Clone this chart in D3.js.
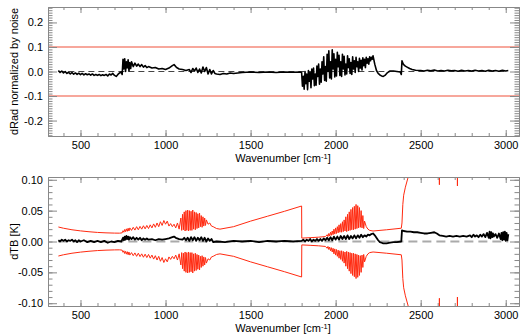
<!DOCTYPE html>
<html>
<head>
<meta charset="utf-8">
<script src="https://cdn.jsdelivr.net/npm/d3@7"></script>
<style>
body { margin: 0; background: #fff; }
text { font-family: "Liberation Sans", Arial, sans-serif; fill: #000; }
</style>
</head>
<body>
<div id="chart"></div>
<script>
// wavenumber [cm-1], value
var topDRad = [
  [370,0.004],[380,-0.004],[390,0.002],[400,-0.006],[410,0.000],[420,-0.008],[430,-0.003],[440,-0.010],
  [450,-0.004],[460,-0.011],[470,-0.006],[480,-0.012],[490,-0.007],[500,-0.013],[510,-0.008],[520,-0.014],
  [530,-0.009],[540,-0.013],[550,-0.010],[560,-0.015],[570,-0.010],[580,-0.016],[590,-0.012],[600,-0.016],
  [610,-0.012],[620,-0.017],[630,-0.013],[640,-0.016],[650,-0.012],[660,-0.018],[670,-0.010],[680,-0.014],
  [690,-0.008],[700,-0.016],[710,-0.020],[720,-0.012],[730,-0.006],[740,-0.002],[745,-0.012],[750,0.050],
  [755,0.010],[760,0.052],[765,0.000],[770,0.040],[775,0.015],[780,0.048],[785,0.002],[790,0.036],
  [795,0.012],[800,0.040],[810,0.020],[820,0.034],[830,0.022],[840,0.030],[850,0.020],[860,0.028],
  [870,0.018],[880,0.024],[890,0.016],[900,0.020],[920,0.014],[940,0.016],[960,0.010],[980,0.012],
  [1000,0.008],[1020,0.014],[1040,0.024],[1050,0.028],[1060,0.020],[1070,0.014],[1080,0.010],[1100,0.008],
  [1120,0.004],[1140,0.008],[1150,-0.004],[1160,0.012],[1170,0.002],[1180,0.014],[1190,-0.004],[1200,0.010],
  [1210,-0.006],[1220,0.018],[1230,0.000],[1240,0.016],[1250,-0.010],[1260,0.008],[1270,-0.010],[1280,0.004],
  [1290,-0.008],[1300,-0.010],[1320,-0.012],[1340,-0.008],[1360,-0.010],[1380,-0.006],[1400,-0.008],[1450,-0.004],
  [1500,-0.002],[1550,-0.004],[1600,-0.002],[1650,-0.004],[1700,-0.002],[1750,-0.003],[1790,-0.002],[1800,-0.004],
  [1805,-0.060],[1810,-0.020],[1815,-0.072],[1820,0.000],[1825,-0.050],[1830,-0.010],[1835,-0.074],[1840,0.004],
  [1845,-0.040],[1850,-0.004],[1855,-0.066],[1860,0.010],[1865,-0.030],[1870,0.014],[1875,-0.058],[1880,-0.010],
  [1885,-0.056],[1890,0.022],[1895,-0.020],[1900,0.030],[1905,-0.052],[1910,0.010],[1915,-0.044],[1920,0.040],
  [1925,-0.010],[1930,0.060],[1935,-0.036],[1940,0.020],[1945,-0.040],[1950,0.070],[1955,0.000],[1960,0.084],
  [1965,-0.026],[1970,0.040],[1975,-0.030],[1980,0.088],[1985,0.010],[1990,0.072],[1995,-0.022],[2000,0.050],
  [2005,-0.018],[2010,0.078],[2015,0.020],[2020,0.066],[2025,-0.016],[2030,0.040],[2035,-0.020],[2040,0.070],
  [2045,0.010],[2050,0.062],[2055,-0.014],[2060,0.030],[2065,-0.010],[2070,0.064],[2075,0.016],[2080,0.052],
  [2085,-0.008],[2090,0.036],[2095,-0.012],[2100,0.060],[2105,0.010],[2110,0.044],[2115,-0.004],[2120,0.058],
  [2125,0.020],[2130,0.040],[2135,0.000],[2140,0.054],[2145,0.014],[2150,0.046],[2155,0.006],[2160,0.056],
  [2165,0.024],[2170,0.050],[2175,0.016],[2180,0.058],[2185,0.034],[2190,0.052],[2195,0.030],[2200,0.060],
  [2205,0.044],[2210,0.058],[2215,0.050],[2220,0.064],[2230,0.030],[2240,0.004],[2250,-0.008],[2260,-0.014],
  [2270,-0.018],[2280,-0.020],[2290,-0.016],[2300,-0.008],[2310,-0.002],[2320,0.002],[2340,0.002],[2360,0.000],
  [2380,-0.002],[2386,-0.012],[2390,0.044],[2395,0.034],[2400,0.028],[2410,0.022],[2420,0.018],[2435,0.012],
  [2450,0.008],[2470,0.005],[2500,0.004],[2520,0.002],[2540,0.005],[2560,0.003],[2580,0.006],[2600,0.002],
  [2620,0.004],[2640,0.002],[2660,0.005],[2680,0.003],[2700,0.004],[2720,0.001],[2740,0.005],[2760,0.002],
  [2780,0.004],[2800,0.002],[2820,0.005],[2840,0.002],[2860,0.004],[2880,0.001],[2900,0.005],[2920,0.002],
  [2940,0.004],[2960,0.001],[2980,0.005],[3000,0.002],[3015,0.004]
];

var bottomDTB = [
  [370,0.002],[380,0.000],[390,0.003],[400,0.001],[410,0.003],[420,0.000],[430,0.002],[440,0.001],
  [450,0.003],[460,0.000],[470,0.002],[480,-0.001],[490,0.002],[500,0.000],[520,0.002],[540,-0.001],
  [560,0.001],[580,-0.001],[600,0.001],[620,-0.001],[640,0.001],[660,-0.002],[680,0.000],[700,-0.001],
  [720,0.001],[740,0.000],[750,0.006],[755,0.002],[760,0.008],[765,0.003],[770,0.009],[775,0.004],
  [780,0.008],[785,0.003],[790,0.007],[800,0.004],[810,0.007],[820,0.003],[830,0.006],[840,0.003],
  [850,0.006],[860,0.002],[870,0.005],[880,0.003],[890,0.005],[900,0.003],[920,0.004],[940,0.002],
  [960,0.004],[980,0.003],[1000,0.004],[1020,0.005],[1040,0.007],[1050,0.008],[1060,0.006],[1080,0.004],
  [1100,0.003],[1110,0.006],[1120,0.002],[1130,0.006],[1140,0.001],[1150,0.007],[1160,0.002],[1170,0.007],
  [1180,0.001],[1190,0.006],[1200,0.002],[1210,0.007],[1220,0.001],[1230,0.006],[1240,0.000],[1250,0.005],
  [1260,0.001],[1270,0.004],[1280,-0.001],[1300,0.000],[1350,-0.001],[1400,0.001],[1450,0.000],[1500,0.001],
  [1550,-0.001],[1600,0.001],[1650,0.000],[1700,0.001],[1750,0.000],[1800,0.001],[1810,0.003],[1820,0.000],
  [1830,0.003],[1840,0.001],[1850,0.004],[1860,0.000],[1870,0.003],[1880,0.001],[1890,0.004],[1900,0.001],
  [1910,0.004],[1920,0.001],[1930,0.005],[1940,0.002],[1950,0.006],[1960,0.002],[1970,0.007],[1980,0.002],
  [1990,0.008],[2000,0.003],[2010,0.008],[2020,0.003],[2030,0.009],[2040,0.004],[2050,0.009],[2060,0.004],
  [2070,0.010],[2080,0.004],[2090,0.009],[2100,0.005],[2110,0.010],[2120,0.005],[2130,0.010],[2140,0.006],
  [2150,0.011],[2160,0.007],[2170,0.010],[2180,0.008],[2190,0.011],[2200,0.010],[2210,0.012],[2220,0.013],
  [2230,0.010],[2240,0.006],[2250,0.002],[2260,-0.001],[2270,-0.002],[2280,-0.003],[2300,-0.003],[2320,-0.002],
  [2340,-0.001],[2360,-0.001],[2386,0.000],[2390,0.018],[2400,0.017],[2420,0.016],[2440,0.016],[2460,0.015],
  [2480,0.015],[2500,0.014],[2520,0.013],[2540,0.013],[2560,0.014],[2580,0.015],[2595,0.013],[2610,0.010],
  [2630,0.009],[2650,0.008],[2670,0.009],[2690,0.008],[2710,0.009],[2730,0.008],[2750,0.009],[2770,0.008],
  [2790,0.010],[2800,0.007],[2810,0.011],[2820,0.008],[2830,0.010],[2840,0.007],[2850,0.011],[2860,0.008],
  [2870,0.012],[2880,0.007],[2890,0.014],[2900,0.006],[2905,0.016],[2910,0.005],[2915,0.015],[2920,0.007],
  [2925,0.013],[2930,0.008],[2940,0.012],[2950,0.006],[2960,0.013],[2970,0.004],[2975,0.014],[2980,0.002],
  [2985,0.015],[2990,0.003],[2995,0.016],[3000,0.001],[3005,0.014],[3010,0.002],[3015,0.012]
];

// noise level in K, plotted as +/- envelope
var noiseTB = [
  [370,0.0235],[400,0.0215],[450,0.0190],[500,0.0172],[550,0.0158],[600,0.0147],[650,0.0140],[700,0.0136],
  [730,0.0135],[745,0.0140],[750,0.0175],[755,0.0150],[760,0.0195],[765,0.0160],[770,0.0205],[775,0.0165],
  [780,0.0215],[785,0.0170],[790,0.0220],[800,0.0180],[810,0.0230],[820,0.0185],[830,0.0240],[840,0.0190],
  [850,0.0245],[860,0.0200],[870,0.0255],[880,0.0205],[890,0.0260],[900,0.0210],[910,0.0270],[920,0.0220],
  [930,0.0285],[940,0.0230],[950,0.0300],[960,0.0240],[970,0.0320],[980,0.0260],[990,0.0340],[1000,0.0280],
  [1010,0.0330],[1020,0.0250],[1030,0.0290],[1040,0.0240],[1050,0.0280],[1060,0.0220],[1070,0.0300],[1080,0.0200],
  [1090,0.0380],[1095,0.0180],[1100,0.0440],[1105,0.0190],[1110,0.0480],[1115,0.0170],[1120,0.0500],[1125,0.0180],
  [1130,0.0510],[1135,0.0170],[1140,0.0500],[1145,0.0180],[1150,0.0490],[1155,0.0180],[1160,0.0510],[1165,0.0200],
  [1170,0.0480],[1175,0.0190],[1180,0.0470],[1185,0.0210],[1190,0.0450],[1195,0.0220],[1200,0.0460],[1205,0.0240],
  [1210,0.0420],[1215,0.0230],[1220,0.0400],[1225,0.0250],[1230,0.0380],[1235,0.0260],[1240,0.0350],[1250,0.0280],
  [1260,0.0300],[1270,0.0250],[1280,0.0240],[1300,0.0210],[1320,0.0200],[1400,0.0240],[1500,0.0330],[1600,0.0410],
  [1700,0.0490],[1800,0.0575],[1801,0.0055],[1850,0.0062],[1900,0.0070],[1940,0.0080],[1950,0.0110],[1955,0.0080],
  [1960,0.0130],[1965,0.0090],[1970,0.0150],[1975,0.0100],[1980,0.0170],[1985,0.0110],[1990,0.0200],[1995,0.0120],
  [2000,0.0220],[2005,0.0130],[2010,0.0240],[2015,0.0140],[2020,0.0270],[2025,0.0150],[2030,0.0290],[2035,0.0150],
  [2040,0.0320],[2045,0.0160],[2050,0.0350],[2055,0.0170],[2060,0.0400],[2065,0.0160],[2070,0.0440],[2075,0.0170],
  [2080,0.0480],[2085,0.0180],[2090,0.0520],[2095,0.0190],[2100,0.0550],[2105,0.0190],[2110,0.0570],[2115,0.0200],
  [2120,0.0600],[2125,0.0210],[2130,0.0580],[2135,0.0220],[2140,0.0550],[2145,0.0230],[2150,0.0500],[2155,0.0220],
  [2160,0.0420],[2165,0.0210],[2170,0.0330],[2180,0.0240],[2190,0.0200],[2200,0.0180],[2220,0.0170],[2300,0.0190],
  [2386,0.0215],[2390,0.0300],[2395,0.0600],[2400,0.0750],[2410,0.0880],[2420,0.0980],[2430,0.1080],[2450,0.125],
  [2500,0.160],[2600,0.200],[2608,0.200],[2610,0.092],[2612,0.200],[2714,0.200],[2716,0.090],[2718,0.200],
  [3015,0.200]
];

var dRadLimits = [0.1, -0.1];
var xTicks = [500, 1000, 1500, 2000, 2500, 3000];
var topYTicks = [-0.2, -0.1, 0.0, 0.1, 0.2];
var bottomYTicks = [-0.10, -0.05, 0.00, 0.05, 0.10];

var W = 526, H = 336;
var left = 48, right = 519;
var axisColor = "#888";

var svg = d3.select("#chart").append("svg")
  .attr("width", W).attr("height", H);

var x = d3.scaleLinear().domain([309, 3078]).range([left, right]);

function drawPanel(opt) {
  var y = d3.scaleLinear().domain(opt.yDomain).range([opt.bottom, opt.top]);
  var g = svg.append("g");

  g.append("clipPath").attr("id", opt.id)
    .append("rect").attr("x", left).attr("y", opt.top)
    .attr("width", right - left).attr("height", opt.bottom - opt.top);

  var plot = g.append("g").attr("clip-path", "url(#" + opt.id + ")");

  // axes: major + minor ticks on all four sides
  var minorX = d3.range(400, 3001, 100);
  var minorY = d3.range(opt.minorStart, -opt.minorStart + 1e-9, opt.minorStep);

  function styleAxis(sel) {
    sel.selectAll("path").attr("stroke", axisColor);
    sel.selectAll("line").attr("stroke", axisColor);
    sel.selectAll("text").attr("font-size", 11).attr("fill", "#000")
      .style("font-family", '"Liberation Sans", Arial, sans-serif');
  }

  g.append("g").attr("transform", "translate(0," + opt.bottom + ")")
    .call(d3.axisBottom(x).tickValues(minorX).tickSize(-3).tickFormat("").tickSizeOuter(0)).call(styleAxis);
  g.append("g").attr("transform", "translate(0," + opt.bottom + ")")
    .call(d3.axisBottom(x).tickValues(xTicks).tickSize(-6).tickPadding(5).tickSizeOuter(0)
      .tickFormat(function(d) { return d; })).call(styleAxis);
  g.append("g").attr("transform", "translate(0," + opt.top + ")")
    .call(d3.axisTop(x).tickValues(minorX).tickSize(-3).tickFormat("").tickSizeOuter(0)).call(styleAxis);
  g.append("g").attr("transform", "translate(0," + opt.top + ")")
    .call(d3.axisTop(x).tickValues(xTicks).tickSize(-6).tickFormat("").tickSizeOuter(0)).call(styleAxis);

  g.append("g").attr("transform", "translate(" + left + ",0)")
    .call(d3.axisLeft(y).tickValues(minorY).tickSize(-4.5).tickFormat("").tickSizeOuter(0)).call(styleAxis);
  g.append("g").attr("transform", "translate(" + left + ",0)")
    .call(d3.axisLeft(y).tickValues(opt.yTicks).tickSize(-9).tickPadding(5).tickSizeOuter(0)
      .tickFormat(function(d) { return d.toFixed(opt.digits); })).call(styleAxis);
  g.append("g").attr("transform", "translate(" + right + ",0)")
    .call(d3.axisRight(y).tickValues(minorY).tickSize(-4.5).tickFormat("").tickSizeOuter(0)).call(styleAxis);
  g.append("g").attr("transform", "translate(" + right + ",0)")
    .call(d3.axisRight(y).tickValues(opt.yTicks).tickSize(-9).tickFormat("").tickSizeOuter(0)).call(styleAxis);

  // labels
  var xl = g.append("text").attr("x", 283).attr("y", opt.bottom + 26)
    .attr("text-anchor", "middle").attr("font-size", 11);
  xl.append("tspan").text("Wavenumber [cm");
  xl.append("tspan").attr("dy", -3.5).attr("font-size", 7.5).text("-1");
  xl.append("tspan").attr("dy", 3.5).text("]");

  g.append("text")
    .attr("transform", "translate(18," + (opt.top + opt.bottom) / 2 + ") rotate(-90)")
    .attr("text-anchor", "middle").attr("font-size", 11)
    .text(opt.yTitle);

  return { y: y, plot: plot };
}

// ---- top panel
var top1 = drawPanel({
  id: "clipTop", top: 7, bottom: 136, yDomain: [-0.263, 0.263],
  yTicks: topYTicks, digits: 1, minorStart: -0.26, minorStep: 0.01,
  yTitle: "dRad normalized by noise"
});

top1.plot.selectAll("line.limit").data(dRadLimits).enter().append("line")
  .attr("class", "limit")
  .attr("x1", left).attr("x2", right)
  .attr("y1", function(d) { return top1.y(d); })
  .attr("y2", function(d) { return top1.y(d); })
  .attr("stroke", "#f0503a").attr("stroke-width", 1.2);

top1.plot.append("line")
  .attr("x1", x(370)).attr("x2", x(3015))
  .attr("y1", top1.y(0)).attr("y2", top1.y(0))
  .attr("stroke", "#444").attr("stroke-width", 1).attr("stroke-dasharray", "6,4");

var lineTop = d3.line()
  .x(function(d) { return x(d[0]); })
  .y(function(d) { return top1.y(d[1]); });

top1.plot.append("path").datum(topDRad)
  .attr("d", lineTop).attr("fill", "none")
  .attr("stroke", "#000").attr("stroke-width", 1.6).attr("stroke-linejoin", "round");

// ---- bottom panel
var bot = drawPanel({
  id: "clipBot", top: 177, bottom: 306, yDomain: [-0.1045, 0.1045],
  yTicks: bottomYTicks, digits: 2, minorStart: -0.10, minorStep: 0.01,
  yTitle: "dTB [K]"
});

var noiseUp = d3.line()
  .x(function(d) { return x(d[0]); })
  .y(function(d) { return bot.y(d[1]); });
var noiseDown = d3.line()
  .x(function(d) { return x(d[0]); })
  .y(function(d) { return bot.y(-d[1]); });

bot.plot.append("path").datum(noiseTB).attr("d", noiseUp)
  .attr("fill", "none").attr("stroke", "#ff2a10").attr("stroke-width", 1);
bot.plot.append("path").datum(noiseTB).attr("d", noiseDown)
  .attr("fill", "none").attr("stroke", "#ff2a10").attr("stroke-width", 1);

bot.plot.append("line")
  .attr("x1", x(370)).attr("x2", x(3015))
  .attr("y1", bot.y(0)).attr("y2", bot.y(0))
  .attr("stroke", "#aaa").attr("stroke-width", 2).attr("stroke-dasharray", "9,5");

var lineBot = d3.line()
  .x(function(d) { return x(d[0]); })
  .y(function(d) { return bot.y(d[1]); });

bot.plot.append("path").datum(bottomDTB)
  .attr("d", lineBot).attr("fill", "none")
  .attr("stroke", "#000").attr("stroke-width", 1.8).attr("stroke-linejoin", "round");
</script>
</body>
</html>
